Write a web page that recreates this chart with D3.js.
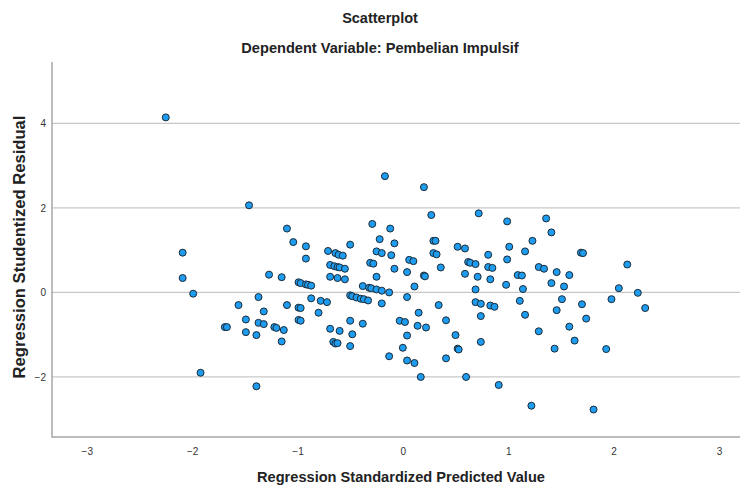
<!DOCTYPE html>
<html>
<head>
<meta charset="utf-8">
<script src="https://cdn.jsdelivr.net/npm/d3@7"></script>
<style>
  html, body { margin: 0; padding: 0; background: #fff; }
  svg { display: block; font-family: "Liberation Sans", Arial, sans-serif; }
</style>
</head>
<body>
<svg id="chart" width="743" height="491"></svg>
<script>
const chartTitle = "Scatterplot";
const chartSubtitle = "Dependent Variable: Pembelian Impulsif";
const xAxisTitle = "Regression Standardized Predicted Value";
const yAxisTitle = "Regression Studentized Residual";
const xTicks = [-3, -2, -1, 0, 1, 2, 3];
const yTicks = [-2, 0, 2, 4];

const predicted = [
  -2.25, -2.09, -2.09, -1.99, -1.69, -1.67, -1.92, -1.46, -0.17, -1.10,
  -1.04, -0.92, -0.92, -1.27, -1.15, -0.71, -0.64, -0.61, -0.57, -0.50,
  -0.69, -0.65, -0.62, -0.60, -0.55, -0.69, -0.62, -0.55, -0.29, -0.12,
  -0.22, -0.08, -0.25, -0.20, -0.11, -0.31, -0.28, -0.08, 0.04, 0.06,
  -0.25, 0.20, 0.27, 0.72, 0.99, 1.36, 1.41, 0.29, 0.31, 0.52,
  0.59, 1.01, 1.23, 1.16, 0.29, 0.32, 0.81, 0.99, 0.10, 0.62,
  0.64, 0.69, 0.36, 0.81, 0.85, 1.29, 1.34, 1.69, 1.71, 0.20,
  0.21, 0.59, 0.71, 0.83, 1.09, 1.13, 1.46, 1.58, 2.13, -0.99,
  -0.97, -0.92, -0.90, -0.87, -0.38, -0.32, -0.30, -0.25, -0.20, -0.13,
  0.04, -1.56, -1.37, -1.10, -0.99, -0.97, -0.87, -0.78, -0.72, -0.80,
  -0.50, -0.48, -0.44, -0.40, -0.37, -0.33, -0.20, -1.32, -1.49, -1.37,
  -1.32, -1.22, -1.20, -1.13, -1.49, -1.39, -1.15, -0.99, -0.97, -0.69,
  -0.60, -0.50, -0.48, -0.38, -0.66, -0.64, -0.62, -0.50, -0.03, 0.02,
  0.04, 0.00, -0.13, 0.04, -1.39, 0.11, 0.69, 0.98, 1.14, 1.41,
  1.53, 0.34, 0.69, 0.74, 0.83, 0.87, 1.11, 1.51, 1.70, 1.16,
  1.46, 1.74, 0.15, 0.41, 0.74, 0.14, 0.22, 0.50, 1.29, 1.58,
  1.63, 0.52, 0.53, 0.74, 1.44, 0.11, 0.41, 0.17, 0.60, 0.91,
  1.22, 2.05, 1.98, 2.23, 2.30, 1.93, 1.81
];
const residual = [
  4.14, 0.94, 0.34, -0.03, -0.82, -0.82, -1.90, 2.06, 2.75, 1.51,
  1.19, 1.09, 0.80, 0.42, 0.36, 0.98, 0.93, 0.89, 0.87, 1.13,
  0.65, 0.62, 0.60, 0.59, 0.56, 0.37, 0.34, 0.31, 1.62, 1.51,
  1.26, 1.16, 0.97, 0.93, 0.88, 0.70, 0.68, 0.56, 0.48, 0.77,
  0.37, 2.49, 1.83, 1.87, 1.68, 1.75, 1.42, 1.22, 1.22, 1.08,
  1.04, 1.08, 1.22, 0.97, 0.93, 0.90, 0.89, 0.78, 0.74, 0.72,
  0.70, 0.67, 0.59, 0.60, 0.58, 0.60, 0.56, 0.94, 0.93, 0.40,
  0.38, 0.44, 0.37, 0.31, 0.41, 0.40, 0.48, 0.41, 0.66, 0.24,
  0.22, 0.19, 0.18, 0.16, 0.15, 0.11, 0.10, 0.07, 0.04, 0.00,
  -0.11, -0.30, -0.11, -0.30, -0.36, -0.37, -0.14, -0.20, -0.23, -0.48,
  -0.07, -0.09, -0.12, -0.15, -0.16, -0.19, -0.26, -0.45, -0.64, -0.72,
  -0.75, -0.82, -0.84, -0.89, -0.94, -1.01, -1.16, -0.65, -0.67, -0.86,
  -0.91, -0.67, -0.99, -0.74, -1.17, -1.21, -1.20, -1.27, -0.67, -0.70,
  -1.02, -1.31, -1.51, -1.61, -2.22, 0.14, 0.07, 0.18, 0.08, 0.22,
  0.14, -0.30, -0.23, -0.27, -0.31, -0.34, -0.20, -0.16, -0.28, -0.53,
  -0.42, -0.62, -0.48, -0.66, -0.56, -0.79, -0.83, -1.01, -0.92, -0.81,
  -1.14, -1.33, -1.35, -1.17, -1.33, -1.67, -1.56, -2.00, -2.00, -2.19,
  -2.68, 0.10, -0.16, -0.01, -0.37, -1.34, -2.77
];

const svg = d3.select("#chart");
const plot = { left: 52, right: 740, top: 62, bottom: 437 };

const x = d3.scaleLinear().domain([-3.33, 3.2]).range([plot.left, plot.right]);
const y = d3.scaleLinear().domain([-3.42, 5.45]).range([plot.bottom, plot.top]);

// titles
svg.append("text").attr("x", 380).attr("y", 23).attr("text-anchor", "middle")
  .attr("font-size", 14.5).attr("font-weight", "bold").attr("fill", "#222").text(chartTitle);
svg.append("text").attr("x", 380).attr("y", 53).attr("text-anchor", "middle")
  .attr("font-size", 14.6).attr("font-weight", "bold").attr("fill", "#222").text(chartSubtitle);

// horizontal grid lines
svg.append("g").selectAll("line").data(yTicks).join("line")
  .attr("x1", plot.left).attr("x2", plot.right)
  .attr("y1", d => y(d)).attr("y2", d => y(d))
  .attr("stroke", "#c8c8c8").attr("stroke-width", 1.2);

// y axis
const yAxis = d3.axisLeft(y).tickValues(yTicks).tickSize(0).tickPadding(6).tickFormat(d3.format("d"));
const gy = svg.append("g").attr("transform", `translate(${plot.left},0)`).call(yAxis);
gy.select(".domain").remove();
gy.selectAll("text").attr("font-size", 10).attr("fill", "#333").attr("font-family", "Liberation Sans, Arial, sans-serif");

// x axis
const xAxis = d3.axisBottom(x).tickValues(xTicks).tickSize(0).tickPadding(11).tickFormat(d3.format("d"));
const gx = svg.append("g").attr("transform", `translate(0,${plot.bottom})`).call(xAxis);
gx.select(".domain").remove();
gx.selectAll("text").attr("font-size", 10).attr("fill", "#333").attr("font-family", "Liberation Sans, Arial, sans-serif");

// frame lines (left + bottom)
svg.append("path")
  .attr("d", `M${plot.left},${plot.top}V${plot.bottom}H${plot.right}`)
  .attr("fill", "none").attr("stroke", "#a6a6a6").attr("stroke-width", 1.5);

// axis titles
svg.append("text").attr("x", 401).attr("y", 482).attr("text-anchor", "middle")
  .attr("font-size", 14.6).attr("font-weight", "bold").attr("fill", "#222").text(xAxisTitle);
svg.append("text").attr("transform", `translate(25,247) rotate(-90)`).attr("text-anchor", "middle")
  .attr("font-size", 16.6).attr("font-weight", "bold").attr("fill", "#222").text(yAxisTitle);

// points
const pts = predicted.map((p, i) => ({ p, r: residual[i] }));
svg.append("g").selectAll("circle").data(pts).join("circle")
  .attr("cx", d => x(d.p)).attr("cy", d => y(d.r)).attr("r", 3.5)
  .attr("fill", "#1e9cf0").attr("stroke", "#1b2a36").attr("stroke-width", 1);
</script>
</body>
</html>
